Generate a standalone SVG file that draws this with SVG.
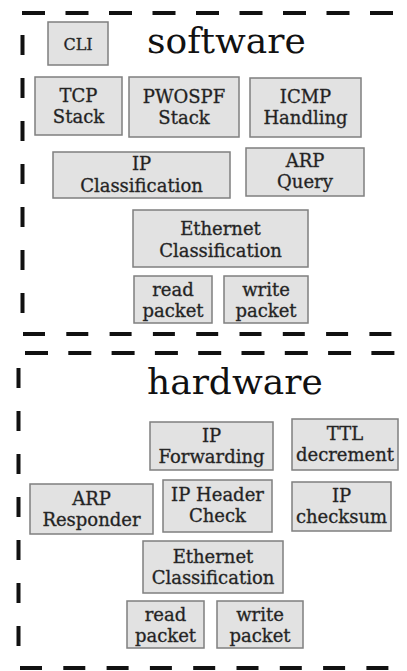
<svg xmlns="http://www.w3.org/2000/svg" width="407" height="671" viewBox="0 0 407 671">
<style>
.b{fill:#e2e2e2;stroke:#7f7f7f;stroke-width:1.5}
.t{font-family:"DejaVu Serif",serif;font-size:18px;fill:#1e1e1e;stroke:#333;stroke-width:0.35;text-anchor:middle}
.h{font-family:"DejaVu Serif",serif;font-size:36px;fill:#111}
.d{stroke:#111;stroke-width:4;fill:none}
</style>
<rect width="407" height="671" fill="#fff"/>
<g id="borders">
<line class="d" x1="22" y1="13" x2="395" y2="13" stroke-dasharray="23 20.5"/>
<line class="d" x1="22.5" y1="35" x2="22.5" y2="316" stroke-dasharray="20 23"/>
<line class="d" x1="23" y1="334" x2="395" y2="334" stroke-dasharray="22 21.3"/>
<line class="d" x1="25" y1="353" x2="395" y2="353" stroke-dasharray="23 20.3"/>
<line class="d" x1="18.5" y1="368" x2="18.5" y2="648" stroke-dasharray="20 23"/>
<line class="d" x1="20" y1="668" x2="400" y2="668" stroke-dasharray="22 21.3"/>
</g>
<g id="software">
<text class="h" x="147" y="53">software</text>
</g>
<g id="cli"><rect class="b" x="48" y="22" width="60" height="43"/><text class="t" x="78" y="50" style="font-size:16px">CLI</text></g>
<g id="tcp"><rect class="b" x="35" y="77" width="87" height="58"/><text class="t" x="78.5" y="102">TCP<tspan x="78.5" y="123">Stack</tspan></text></g>
<g id="pwospf"><rect class="b" x="129" y="77" width="110" height="60"/><text class="t" x="184" y="103">PWOSPF<tspan x="184" y="124">Stack</tspan></text></g>
<g id="icmp"><rect class="b" x="250" y="78" width="111" height="59"/><text class="t" x="305.5" y="103">ICMP<tspan x="305.5" y="124">Handling</tspan></text></g>
<g id="ipclass"><rect class="b" x="53" y="152" width="177" height="46"/><text class="t" x="141.5" y="170">IP<tspan x="141.5" y="192">Classification</tspan></text></g>
<g id="arpq"><rect class="b" x="246" y="148" width="118" height="48"/><text class="t" x="305" y="167">ARP<tspan x="305" y="188">Query</tspan></text></g>
<g id="ethsw"><rect class="b" x="133" y="210" width="175" height="57"/><text class="t" x="220.5" y="235">Ethernet<tspan x="220.5" y="257">Classification</tspan></text></g>
<g id="readsw"><rect class="b" x="134" y="276" width="78" height="47"/><text class="t" x="173" y="296">read<tspan x="173" y="317">packet</tspan></text></g>
<g id="writesw"><rect class="b" x="224" y="276" width="84" height="47"/><text class="t" x="266" y="296">write<tspan x="266" y="317">packet</tspan></text></g>
<g id="hardware">
<text class="h" x="147" y="394">hardware</text>
</g>
<g id="ipfwd"><rect class="b" x="150" y="422" width="123" height="48"/><text class="t" x="211.5" y="442">IP<tspan x="211.5" y="463">Forwarding</tspan></text></g>
<g id="ttl"><rect class="b" x="292" y="419" width="106" height="51"/><text class="t" x="345" y="440">TTL<tspan x="345" y="461">decrement</tspan></text></g>
<g id="arpr"><rect class="b" x="30" y="484" width="123" height="50"/><text class="t" x="91.5" y="505">ARP<tspan x="91.5" y="526">Responder</tspan></text></g>
<g id="iphc"><rect class="b" x="163" y="480" width="109" height="52"/><text class="t" x="217.5" y="501">IP Header<tspan x="217.5" y="522">Check</tspan></text></g>
<g id="ipcs"><rect class="b" x="292" y="482" width="99" height="49"/><text class="t" x="341.5" y="502">IP<tspan x="341.5" y="523">checksum</tspan></text></g>
<g id="ethhw"><rect class="b" x="143" y="541" width="140" height="52"/><text class="t" x="213" y="563">Ethernet<tspan x="213" y="584">Classification</tspan></text></g>
<g id="readhw"><rect class="b" x="127" y="601" width="77" height="47"/><text class="t" x="165.5" y="621">read<tspan x="165.5" y="642">packet</tspan></text></g>
<g id="writehw"><rect class="b" x="217" y="601" width="86" height="47"/><text class="t" x="260" y="621">write<tspan x="260" y="642">packet</tspan></text></g>
<g id="connectors"></g>
</svg>
